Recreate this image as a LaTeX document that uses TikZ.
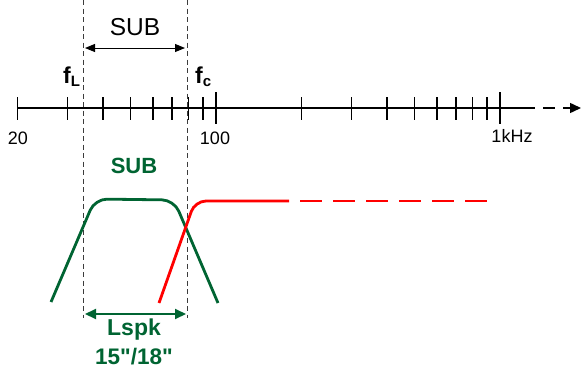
\documentclass[tikz,border=0pt]{standalone}
\usepackage{fontspec}
\setmainfont{Liberation Sans}
\newfontfamily\plainsans{Liberation Sans}
\usetikzlibrary{arrows.meta}
\definecolor{dkgreen}{RGB}{0,100,50}
\definecolor{guide}{RGB}{60,60,60}
\tikzset{
  axisline/.style={line width=1.5pt, black},
  tickmark/.style={line width=1.3pt, black},
  guideline/.style={line width=0.9pt, guide, dash pattern=on 5pt off 3.5pt},
  lbl/.style={inner sep=0pt, font=\fontsize{18}{18}\selectfont},
  biglbl/.style={inner sep=0pt, font=\fontsize{24.5}{24.5}\selectfont},
  greenlbl/.style={inner sep=0pt, text=dkgreen, font=\fontsize{22}{22}\selectfont\bfseries},
  freqlbl/.style={inner sep=0pt, anchor=base west, font=\fontsize{23}{23}\selectfont\bfseries},
  subcurve/.style={line width=2.8pt, dkgreen, rounded corners=12pt},
  hicurve/.style={line width=2.8pt, red},
}
\begin{document}
\begin{tikzpicture}[x=1pt,y=-1pt]
\useasboundingbox (0,0) rectangle (582,370);
% axis
\coordinate (a0) at (17,108);
\coordinate (a1) at (523,108);
\coordinate (a2) at (581,108);
\draw[axisline] (a0) -- (a1);
\draw[axisline, dash pattern=on 12pt off 8pt, -{Triangle[length=11pt,width=10pt]}] (a1) -- (a2);
% ticks
\foreach \f in {20,30,40,50,60,70,80,90,200,300,400,500,600,700,800,900}{
  \pgfmathsetmacro{\xx}{216+284*ln(\f/100)/ln(10)}
  \draw[tickmark] (\xx,97) -- (\xx,120);
}
\foreach \xx in {216,500}{
  \draw[tickmark] (\xx,92) -- (\xx,124);
}
% labels
\node[lbl] (l20) at (18,138) {20};
\node[lbl] (l100) at (215,138) {100};
\node[lbl] (l1k) at (512,136) {1kHz};
% guides
\coordinate (gL0) at (83,0);
\coordinate (gL1) at (83,318);
\coordinate (gR0) at (187,0);
\coordinate (gR1) at (187,318);
\draw[guideline] (gL0) -- (gL1);
\draw[guideline] (gR0) -- (gR1);
% top SUB
\node[biglbl] (sub) at (135,27) {SUB};
\coordinate (s0) at (85,48);
\coordinate (s1) at (185,48);
\draw[line width=1pt, {Triangle[length=10pt,width=8pt]}-{Triangle[length=10pt,width=8pt]}] (s0) -- (s1);
% fL fc
\node[freqlbl] (fL) at (63,83) {f\raisebox{-3pt}{\fontsize{15}{15}\selectfont L}};
\node[freqlbl] (fc) at (195,83) {f\raisebox{-3pt}{\fontsize{15}{15}\selectfont c}};
% green curve
\node[greenlbl] (gsub) at (134,166) {SUB};
\coordinate (g0) at (51,302);
\coordinate (g1) at (95,199);
\coordinate (g2) at (174,200);
\coordinate (g3) at (218,303);
\draw[subcurve] (g0) -- (g1) -- (g2) -- (g3);
% red curve
\coordinate (r0) at (159,303);
\coordinate (r1) at (195,201);
\coordinate (r2) at (289,201);
\coordinate (r3) at (300,201);
\coordinate (r4) at (488,201);
\draw[hicurve, rounded corners=11pt] (r0) -- (r1) -- (r2);
\draw[hicurve, dash pattern=on 22pt off 11pt] (r3) -- (r4);
% Lspk arrow
\coordinate (p0) at (85,314);
\coordinate (p1) at (186,314);
\draw[line width=2pt, dkgreen, {Triangle[length=11pt,width=10pt]}-{Triangle[length=11pt,width=10pt]}] (p0) -- (p1);
\node[greenlbl, font=\fontsize{23}{23}\selectfont\bfseries] (lspk) at (134,330) {Lspk};
\node[greenlbl, font=\plainsans\fontsize{22.5}{22.5}\selectfont\bfseries] (size) at (134,357) {15"/18"};
\end{tikzpicture}
\end{document}
